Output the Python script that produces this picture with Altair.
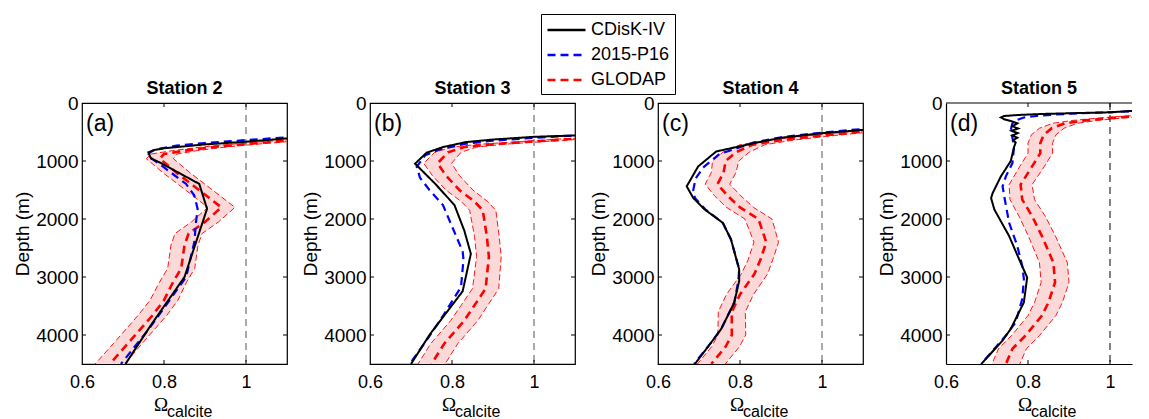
import altair as alt
import pandas as pd

SERIES = ["CDisK-IV", "2015-P16", "GLODAP"]
STATIONS = ["Station 2", "Station 3", "Station 4", "Station 5"]
LABELS = ["(a)", "(b)", "(c)", "(d)"]
X_TICKS = [0.6, 0.8, 1.0]
Y_TICKS = [0, 1000, 2000, 3000, 4000]

# ---------------- Station 2 ----------------
s2_cdisk_depth = [540, 610, 668, 714, 777, 811, 851, 955, 1023, 1395, 1825, 3000, 3830, 4500]
s2_cdisk_omega = [1.25, 1.10, 1.00, 0.90, 0.805, 0.775, 0.762, 0.768, 0.789, 0.886, 0.905, 0.850, 0.768, 0.706]
s2_p16_depth = [530, 593, 639, 690, 736, 800, 851, 908, 1052, 1395, 1596, 1825, 2054, 2398, 3000, 3888, 4500]
s2_p16_omega = [1.25, 1.10, 1.00, 0.90, 0.83, 0.78, 0.766, 0.760, 0.789, 0.854, 0.874, 0.882, 0.878, 0.874, 0.854, 0.764, 0.695]
s2_glodap_depth = [580, 650, 708, 760, 822, 880, 960, 1200, 1514, 1800, 2050, 2250, 2450, 2850, 3090, 3400, 3660, 4120, 4500]
s2_glodap_omega = [1.25, 1.10, 1.00, 0.92, 0.85, 0.80, 0.79, 0.83, 0.888, 0.940, 0.900, 0.860, 0.850, 0.842, 0.822, 0.800, 0.772, 0.715, 0.668]
s2_glodap_sd = [0.03, 0.03, 0.03, 0.03, 0.03, 0.032, 0.033, 0.033, 0.033, 0.033, 0.033, 0.033, 0.033, 0.033, 0.033, 0.034, 0.035, 0.035, 0.036]

# ---------------- Station 3 ----------------
s3_cdisk_depth = [540, 560, 583, 630, 674, 760, 857, 1046, 1400, 1760, 2200, 2600, 3246, 3989, 4500]
s3_cdisk_omega = [1.25, 1.10, 1.00, 0.90, 0.834, 0.778, 0.738, 0.710, 0.760, 0.806, 0.830, 0.846, 0.826, 0.746, 0.700]
s3_p16_depth = [530, 560, 600, 650, 703, 800, 900, 1100, 1290, 1500, 1760, 2160, 2560, 2700, 3171, 3650, 4050, 4500]
s3_p16_omega = [1.25, 1.10, 1.00, 0.90, 0.834, 0.77, 0.735, 0.714, 0.722, 0.745, 0.778, 0.802, 0.826, 0.828, 0.822, 0.78, 0.742, 0.697]
s3_glodap_depth = [590, 617, 663, 710, 760, 850, 1040, 1250, 1500, 1700, 1850, 2300, 2650, 3200, 3750, 4150, 4500]
s3_glodap_omega = [1.25, 1.10, 1.00, 0.90, 0.83, 0.79, 0.765, 0.785, 0.818, 0.855, 0.875, 0.885, 0.890, 0.882, 0.830, 0.781, 0.750]
s3_glodap_sd = [0.03, 0.03, 0.03, 0.03, 0.03, 0.032, 0.034, 0.033, 0.033, 0.032, 0.032, 0.03, 0.03, 0.032, 0.033, 0.033, 0.033]

# ---------------- Station 4 ----------------
s4_cdisk_depth = [420, 464, 521, 600, 693, 836, 1093, 1437, 1637, 1837, 2066, 2352, 2868, 3068, 3440, 3898, 4127, 4500]
s4_cdisk_omega = [1.25, 1.10, 1.00, 0.90, 0.834, 0.742, 0.698, 0.670, 0.686, 0.714, 0.758, 0.778, 0.798, 0.798, 0.786, 0.754, 0.730, 0.690]
s4_p16_depth = [410, 447, 510, 590, 680, 880, 1100, 1300, 1500, 1640, 1837, 2066, 2352, 2868, 3068, 3440, 3898, 4127, 4500]
s4_p16_omega = [1.25, 1.10, 1.00, 0.90, 0.834, 0.750, 0.712, 0.692, 0.686, 0.690, 0.716, 0.758, 0.778, 0.798, 0.796, 0.786, 0.754, 0.730, 0.688]
s4_glodap_depth = [450, 493, 561, 640, 720, 850, 1000, 1200, 1400, 1600, 1800, 2000, 2400, 2700, 2950, 3300, 3600, 4000, 4200, 4500]
s4_glodap_omega = [1.25, 1.10, 1.00, 0.90, 0.83, 0.79, 0.765, 0.76, 0.745, 0.77, 0.80, 0.845, 0.864, 0.85, 0.835, 0.80, 0.78, 0.78, 0.765, 0.73]
s4_glodap_sd = [0.03, 0.03, 0.03, 0.03, 0.03, 0.032, 0.032, 0.03, 0.03, 0.032, 0.033, 0.033, 0.03, 0.03, 0.032, 0.033, 0.033, 0.034, 0.034, 0.034]

# ---------------- Station 5 ----------------
s5_cdisk_depth = [90, 125, 160, 189, 206, 224, 250, 280, 310, 350, 400, 440, 480, 520, 560, 600, 640, 680, 760, 1000, 1264, 1550, 1640, 1837, 2295, 2753, 3008, 3437, 3894, 4095, 4500]
s5_cdisk_omega = [1.30, 1.08, 1.00, 0.834, 0.778, 0.742, 0.734, 0.742, 0.758, 0.774, 0.762, 0.776, 0.760, 0.775, 0.762, 0.774, 0.764, 0.770, 0.766, 0.758, 0.734, 0.714, 0.710, 0.718, 0.754, 0.782, 0.798, 0.790, 0.758, 0.738, 0.686]
s5_p16_depth = [90, 125, 160, 185, 215, 250, 300, 350, 464, 600, 750, 1036, 1264, 1436, 1608, 2066, 2467, 2810, 3036, 3380, 3780, 4009, 4500]
s5_p16_omega = [1.30, 1.10, 1.00, 0.90, 0.83, 0.79, 0.77, 0.762, 0.758, 0.762, 0.766, 0.762, 0.746, 0.738, 0.742, 0.754, 0.774, 0.786, 0.790, 0.786, 0.770, 0.746, 0.686]
s5_glodap_depth = [180, 223, 260, 300, 350, 435, 550, 693, 865, 1093, 1407, 1665, 1951, 2295, 2753, 3094, 3437, 3666, 4009, 4238, 4500]
s5_glodap_omega = [1.30, 1.07, 1.00, 0.94, 0.89, 0.858, 0.838, 0.830, 0.830, 0.810, 0.782, 0.786, 0.810, 0.834, 0.862, 0.866, 0.850, 0.834, 0.794, 0.762, 0.746]
s5_glodap_sd = [0.03, 0.03, 0.03, 0.03, 0.03, 0.03, 0.03, 0.03, 0.03, 0.03, 0.028, 0.03, 0.032, 0.033, 0.034, 0.034, 0.034, 0.034, 0.034, 0.034, 0.034]

STATION_DATA = [
    (s2_cdisk_depth, s2_cdisk_omega, s2_p16_depth, s2_p16_omega, s2_glodap_depth, s2_glodap_omega, s2_glodap_sd),
    (s3_cdisk_depth, s3_cdisk_omega, s3_p16_depth, s3_p16_omega, s3_glodap_depth, s3_glodap_omega, s3_glodap_sd),
    (s4_cdisk_depth, s4_cdisk_omega, s4_p16_depth, s4_p16_omega, s4_glodap_depth, s4_glodap_omega, s4_glodap_sd),
    (s5_cdisk_depth, s5_cdisk_omega, s5_p16_depth, s5_p16_omega, s5_glodap_depth, s5_glodap_omega, s5_glodap_sd),
]

H = 261
# last panel is cut by the right edge of the figure
WIDTHS = [205, 205, 205, 186]
X_MAX = [1.1, 1.1, 1.1, 1.0537]
FONT = "Liberation Sans"

yscale = alt.Scale(domain=[0, 4500], nice=False, zero=False, reverse=True)

color_scale = alt.Scale(domain=SERIES, range=["black", "blue", "red"])
dash_scale = alt.Scale(domain=SERIES, range=[[1, 0], [8, 5], [8, 5]])
legend = alt.Legend(title=None, orient="none", legendX=459, legendY=-89,
                    symbolType="M-1,0H3", symbolSize=361, symbolStrokeWidth=2.5,
                    labelFontSize=18, labelColor="black", labelFont=FONT,
                    strokeColor="black", fillColor="white", padding=5,
                    rowPadding=5, labelOffset=23)

W_SERIES = {"CDisK-IV": 2.0, "2015-P16": 2.2, "GLODAP": 2.6}


def panel(i):
    W = WIDTHS[i]
    last = i == 3
    xscale = alt.Scale(domain=[0.6, X_MAX[i]], nice=False, zero=False)
    xaxis = alt.Axis(values=X_TICKS, format="~g", title=None, ticks=False, grid=False,
                     labelPadding=9, labelFontSize=18, labelColor="black", labelFlush=False,
                     domain=last, domainColor="black", domainWidth=1.2)
    yaxis = alt.Axis(values=Y_TICKS, format="d", title="Depth (m)", ticks=False, grid=False,
                     labelPadding=4, titlePadding=3, labelFontSize=19, titleFontSize=19,
                     titleFontWeight="normal", labelColor="black", titleColor="black",
                     labelFlush=False, domain=last, domainColor="black", domainWidth=1.2)
    cd, co, pd_, po, gd, go, gs = STATION_DATA[i]
    rows = []
    for d, o in zip(cd, co):
        rows.append({"series": "CDisK-IV", "depth": d, "omega": o})
    for d, o in zip(pd_, po):
        rows.append({"series": "2015-P16", "depth": d, "omega": o})
    for d, o in zip(gd, go):
        rows.append({"series": "GLODAP", "depth": d, "omega": o})
    ldf = pd.DataFrame(rows)
    bdf = pd.DataFrame({"depth": gd, "omega": go,
                        "lo": [o - s for o, s in zip(go, gs)],
                        "hi": [o + s for o, s in zip(go, gs)]})

    y_enc = alt.Y("depth:Q", scale=yscale, axis=yaxis)
    x_enc = alt.X("omega:Q", scale=xscale, axis=xaxis)

    band = alt.Chart(bdf).mark_area(orient="horizontal", color="#fbd9d9", opacity=1, clip=True).encode(
        x=alt.X("lo:Q", scale=xscale, axis=xaxis, stack=None), x2="hi:Q", y=y_enc)
    edge_lo = alt.Chart(bdf).mark_line(color="red", strokeWidth=0.9, strokeDash=[6, 3], clip=True).encode(
        x=alt.X("lo:Q", scale=xscale, axis=xaxis), y=y_enc, order="depth:Q")
    edge_hi = alt.Chart(bdf).mark_line(color="red", strokeWidth=0.9, strokeDash=[6, 3], clip=True).encode(
        x=alt.X("hi:Q", scale=xscale, axis=xaxis), y=y_enc, order="depth:Q")
    vline = alt.Chart(pd.DataFrame({"omega": [1.0]})).mark_rule(
        color="black" if last else "#555555", strokeWidth=1, strokeDash=[7, 5]).encode(x=x_enc)

    layers = [band, edge_lo, edge_hi, vline]
    for s in ["GLODAP", "2015-P16", "CDisK-IV"]:
        layers.append(
            alt.Chart(ldf[ldf.series == s]).mark_line(strokeWidth=W_SERIES[s], clip=True).encode(
                x=x_enc, y=y_enc, order="depth:Q",
                color=alt.Color("series:N", scale=color_scale, legend=legend),
                strokeDash=alt.StrokeDash("series:N", scale=dash_scale, legend=legend)))

    xt = pd.DataFrame({"omega": [0.8, 1.0]})
    yt = pd.DataFrame({"depth": [1000, 2000, 3000, 4000]})
    layers.append(alt.Chart(xt).mark_rule(color="black").encode(x=x_enc, y=alt.value(0), y2=alt.value(4)))
    layers.append(alt.Chart(xt).mark_rule(color="black").encode(x=x_enc, y=alt.value(H), y2=alt.value(H - 4)))
    layers.append(alt.Chart(yt).mark_rule(color="black").encode(y=y_enc, x=alt.value(0), x2=alt.value(4)))
    if not last:
        layers.append(alt.Chart(yt).mark_rule(color="black").encode(y=y_enc, x=alt.value(W), x2=alt.value(W - 4)))
    else:
        # top frame line of the cut-off panel
        layers.append(alt.Chart(pd.DataFrame({"a": [0]})).mark_rule(color="black", strokeWidth=1.2).encode(
            x=alt.value(0), x2=alt.value(W), y=alt.value(0)))

    one = pd.DataFrame({"t": [LABELS[i]]})
    layers.append(alt.Chart(one).mark_text(align="left", baseline="middle", fontSize=23, font=FONT, color="black").encode(
        text="t:N", x=alt.value(4), y=alt.value(21)))
    om = pd.DataFrame({"t": ["Ω"]})
    layers.append(alt.Chart(om).mark_text(align="left", baseline="alphabetic", fontSize=19, font="Liberation Serif", color="black").encode(
        text="t:N", x=alt.value(205 / 2 - 30.5), y=alt.value(H + 47)))
    sub = pd.DataFrame({"t": ["calcite"]})
    layers.append(alt.Chart(sub).mark_text(align="left", baseline="alphabetic", fontSize=16, font=FONT, color="black").encode(
        text="t:N", x=alt.value(205 / 2 - 17.5), y=alt.value(H + 53)))

    props = dict(width=W, height=H,
                 title=alt.TitleParams(STATIONS[i], fontSize=18, fontWeight="bold", font=FONT, color="black",
                                       frame="group", offset=-4))
    if last:
        props["view"] = alt.ViewBackground(stroke=None)
    return alt.layer(*layers).properties(**props)


chart = alt.hconcat(*[panel(i) for i in range(4)], spacing=12).properties(
    padding={"left": 5, "top": 5, "right": 0, "bottom": 0}
).configure(font=FONT).configure_view(stroke="black", strokeWidth=1.2)

chart.save("out.html", embed_options={"renderer": "svg", "actions": False})
